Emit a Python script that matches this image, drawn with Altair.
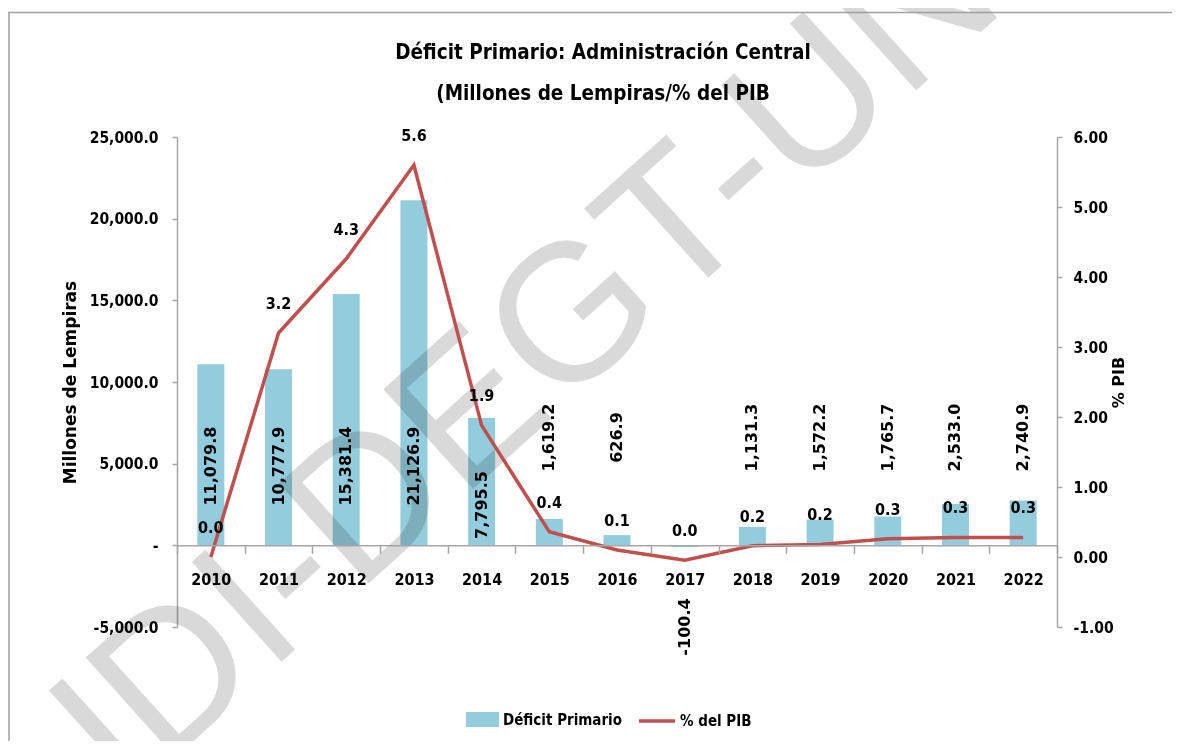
import altair as alt
import pandas as pd

# ---------------- data ----------------
years = ["2010", "2011", "2012", "2013", "2014", "2015", "2016",
         "2017", "2018", "2019", "2020", "2021", "2022"]
deficit = [11079.8, 10777.9, 15381.4, 21126.9, 7795.5, 1619.2, 626.9,
           -100.4, 1131.3, 1572.2, 1765.7, 2533.0, 2740.9]
pib = [0.0, 3.2, 4.26, 5.6, 1.88, 0.36, 0.1, -0.045, 0.16, 0.18, 0.26, 0.28, 0.28]
series = ["Déficit Primario", "% del PIB"]
title_lines = ["Déficit Primario: Administración Central",
               "(Millones de Lempiras/% del PIB"]
left_ticks = [-5000, 0, 5000, 10000, 15000, 20000, 25000]
right_ticks = [-1, 0, 1, 2, 3, 4, 5, 6]
watermark = ["UDI-DEGT-UNAH"]

df = pd.DataFrame({"year": years, "deficit": deficit, "pib": pib})

# ---------------- style ----------------
BAR = "#93CDDD"
LINE = "#C0504D"
GREY = "#A6A6A6"
NARROW = "'Liberation Sans Narrow', 'DejaVu Sans Condensed', 'Arial Narrow', sans-serif"
WIDE = "'DejaVu Sans', Verdana, sans-serif"
W, H = 880, 490
zero_off = -(H * 5000.0 / 30000.0)

yl = alt.Scale(domain=[-5000, 25000], nice=False, zero=False)
yr = alt.Scale(domain=[-1, 6], nice=False, zero=False)

xaxis = alt.Axis(title=None, orient="bottom", offset=zero_off, labelAngle=0,
                 labelFont=NARROW, labelFontSize=16, labelFontWeight="bold",
                 labelColor="black", labelPadding=18, tickBand="extent",
                 tickSize=8, tickColor=GREY, tickWidth=1.5, domainColor=GREY,
                 domainWidth=1.5, grid=False, zindex=1)
xenc = alt.X("year:N", sort=years,
             scale=alt.Scale(paddingInner=0, paddingOuter=0), axis=xaxis)

left_axis = alt.Axis(orient="left", values=left_ticks,
                     labelExpr="datum.value == 0 ? '-\u00a0\u00a0' : replace(format(datum.value, ',.1f'), '\u2212', '-')",
                     title="Millones de Lempiras", titleFont=WIDE, titleFontSize=17,
                     titleFontWeight="bold", titleColor="black", titlePadding=10,
                     labelFont=NARROW, labelFontSize=15.5, labelFontWeight="bold",
                     labelColor="black", labelPadding=14, tickSize=5,
                     tickColor=GREY, tickWidth=1.5, domainColor=GREY,
                     domainWidth=1.5, grid=False)

right_axis = alt.Axis(orient="right", values=right_ticks,
                      labelExpr="replace(format(datum.value, '.2f'), '\u2212', '-')",
                      title="% PIB", titleAngle=270, titleFont=WIDE, titleFontSize=16,
                      titleFontWeight="bold", titleColor="black", titlePadding=13,
                      labelFont=NARROW, labelFontSize=15.5, labelFontWeight="bold",
                      labelColor="black", labelPadding=11, tickSize=5,
                      tickColor=GREY, tickWidth=1.5, domainColor=GREY,
                      domainWidth=1.5, grid=False)

base = alt.Chart(df)

bars = base.transform_calculate(serie=f"'{series[0]}'").mark_bar(size=27).encode(
    x=xenc,
    y=alt.Y("deficit:Q", scale=yl, axis=left_axis),
    color=alt.Color("serie:N",
                    scale=alt.Scale(domain=[series[0]], range=[BAR]),
                    legend=alt.Legend(title=None, orient="none", legendX=289, legendY=566,
                                      symbolType="M-1,-0.45H1V0.45H-1Z", symbolSize=1089,
                                      symbolStrokeWidth=0, labelFont=NARROW,
                                      labelFontSize=15, labelFontWeight="bold",
                                      labelColor="black", labelOffset=4, padding=0)),
)

wm = alt.Chart(pd.DataFrame({"t": watermark})).mark_text(
    angle=318, fontSize=195, font="'Liberation Sans', Arial, sans-serif",
    color="#D9D9D9", blend="multiply", align="center", baseline="middle"
).encode(text="t:N", x=alt.value(418), y=alt.value(163))

line = base.transform_calculate(serie=f"'{series[1]}'").mark_line(strokeWidth=3.5).encode(
    x=xenc,
    y=alt.Y("pib:Q", scale=yr, axis=right_axis),
    color=alt.Color("serie:N",
                    scale=alt.Scale(domain=[series[1]], range=[LINE]),
                    legend=alt.Legend(title=None, orient="none", legendX=460, legendY=564,
                                      symbolType="stroke", symbolSize=1296,
                                      symbolStrokeWidth=3.5, labelFont=NARROW,
                                      labelFontSize=15, labelFontWeight="bold",
                                      labelColor="black", labelOffset=3, padding=0)),
)

bar_labels = base.transform_calculate(
    ly="datum.deficit > 9000 ? 4850 : (datum.deficit > 5000 ? 2470 : (datum.deficit >= 0 ? 6600 : -5000))",
    lab="replace(format(datum.deficit, ',.1f'), '\u2212', '-')",
).mark_text(angle=270, font=WIDE, fontSize=16, fontWeight="bold", color="black",
            align="center", baseline="middle").encode(
    x=xenc,
    y=alt.Y("ly:Q", scale=yl, axis=None),
    text="lab:N",
)

line_labels = base.transform_calculate(
    lab="replace(format(datum.pib, '.1f'), '\u2212', '-')"
).mark_text(font=NARROW, fontSize=16, fontWeight="bold", color="black",
            align="center", baseline="middle", dy=-29).encode(
    x=xenc,
    y=alt.Y("pib:Q", scale=yr, axis=None),
    text="lab:N",
)

one = pd.DataFrame({"k": [0]})
frame_top = alt.Chart(one).mark_rule(color="#A0A0A0", strokeWidth=1.5).encode(
    x=alt.value(-169), x2=alt.value(1000), y=alt.value(-124.5))
frame_left = alt.Chart(one).mark_rule(color="#A0A0A0", strokeWidth=1.5).encode(
    x=alt.value(-168), y=alt.value(-124.5), y2=alt.value(610))

title = alt.Chart(one).mark_text(
    text=title_lines, font=NARROW, fontSize=20.5, fontWeight="bold", color="black",
    align="center", baseline="alphabetic", lineHeight=41
).encode(x=alt.value(426), y=alt.value(-78))

chart = alt.layer(
    bars, wm, line, bar_labels, line_labels, frame_top, frame_left, title
).resolve_scale(y="independent", color="independent").properties(
    width=W, height=H,
    autosize=alt.AutoSizeParams(type="none"),
    padding={"left": 169, "top": 129, "right": 115, "bottom": 114},
).configure_view(strokeWidth=0)

chart.save("out.html", embed_options={"renderer": "svg", "actions": False})
